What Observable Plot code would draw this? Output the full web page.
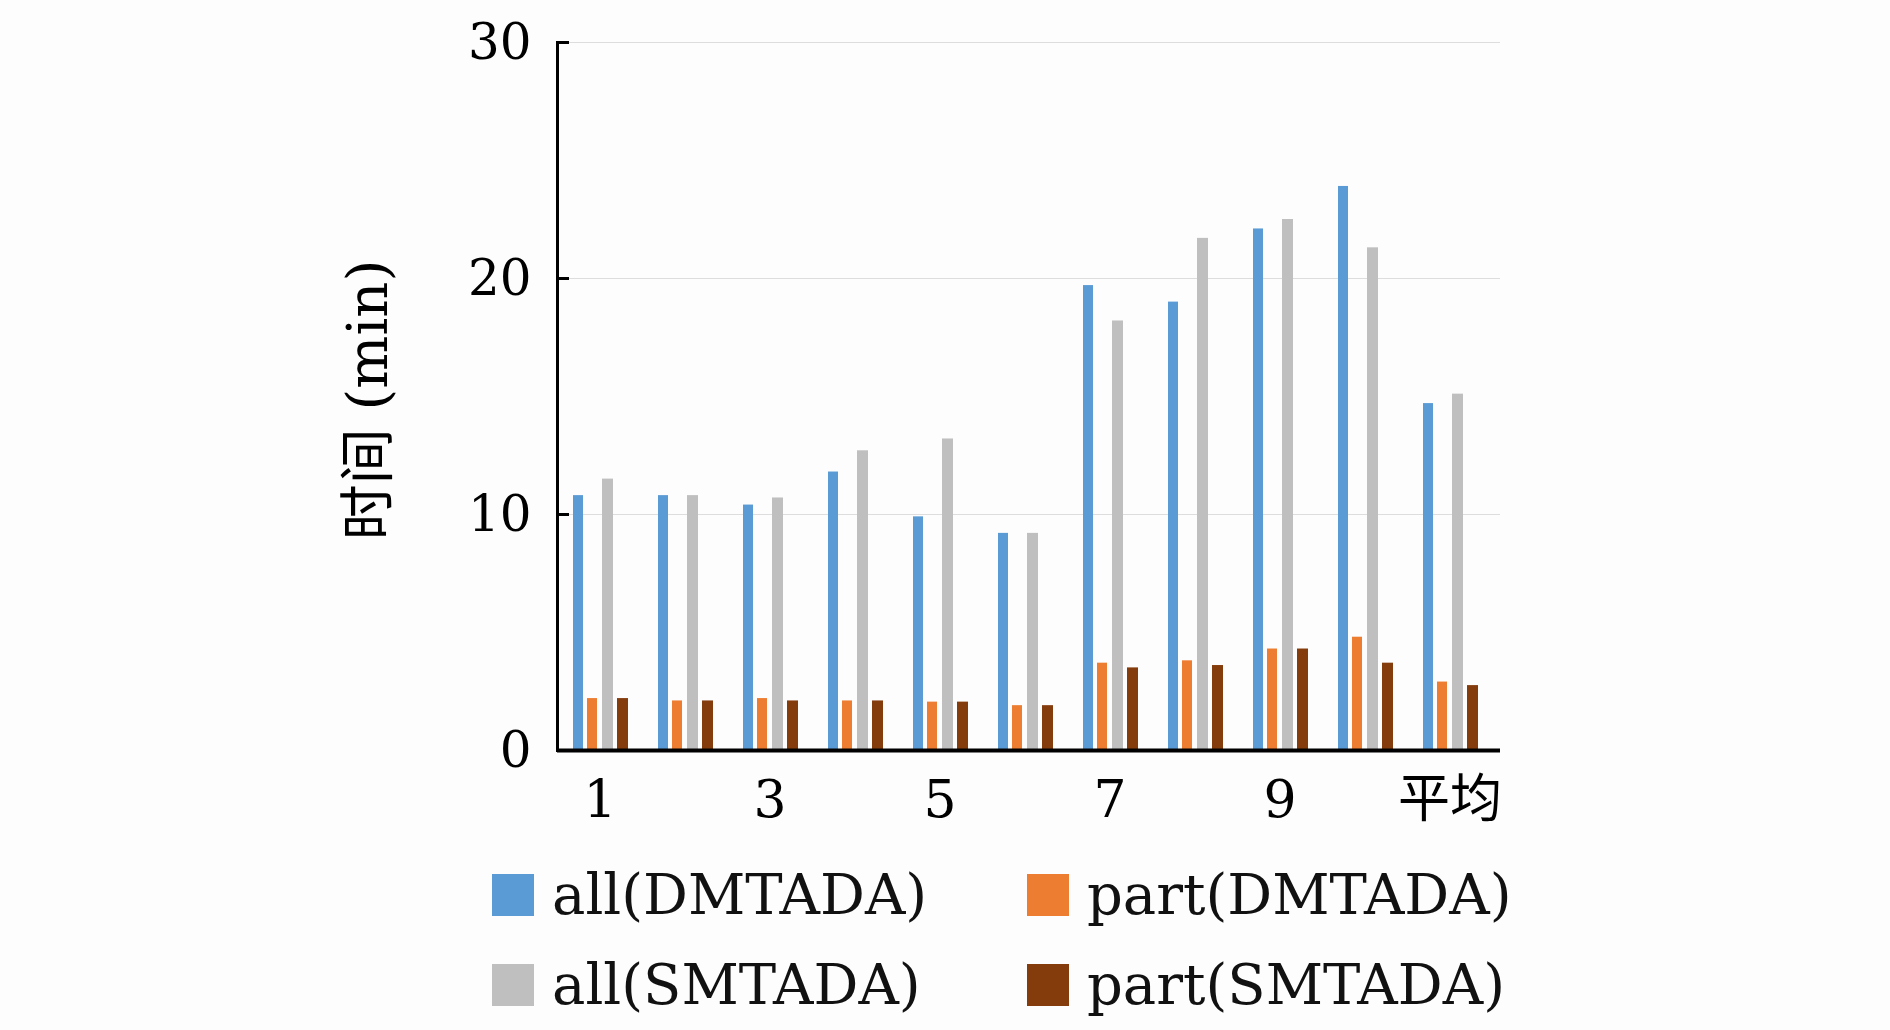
<!DOCTYPE html>
<html><head><meta charset="utf-8">
<script src="https://cdn.jsdelivr.net/npm/d3@7"></script>
<script src="https://cdn.jsdelivr.net/npm/@observablehq/plot@0.6"></script>
<style>
body{margin:0;background:#fdfdfd;font-family:"DejaVu Serif","Noto Sans CJK SC",serif;}
#wrap{position:relative;width:1890px;height:1030px;}
.leg{position:absolute;font-size:56px;display:flex;align-items:center;color:#111;}
.sw{width:42px;height:42px;margin-right:18px;}
</style></head><body><div id="wrap"></div>
<script>
const categories=["1","2","3","4","5","6","7","8","9","10","平均"];
const series=["all(DMTADA)","part(DMTADA)","all(SMTADA)","part(SMTADA)"];
const colors=["#5b9bd5","#ed7d31","#bfbfbf","#843c0c"];
const allD=[10.8,10.8,10.4,11.8,9.9,9.2,19.7,19.0,22.1,23.9,14.7];
const partD=[2.2,2.1,2.2,2.1,2.05,1.9,3.7,3.8,4.3,4.8,2.9];
const allS=[11.5,10.8,10.7,12.7,13.2,9.2,18.2,21.7,22.5,21.3,15.1];
const partS=[2.2,2.1,2.1,2.1,2.05,1.9,3.5,3.6,4.3,3.7,2.75];
const vals=[allD,partD,allS,partS];
const insets=[[16,59],[30,45],[45,29],[60,14]];
const marks=[
  Plot.gridY({ticks:[10,20,30],stroke:"#ddd",strokeOpacity:1}),
  ...vals.map((v,s)=>Plot.barY(categories.map((c,i)=>({c,v:v[i]})),{x:"c",y:"v",fill:colors[s],insetLeft:insets[s][0],insetRight:insets[s][1]})),
  Plot.axisY({ticks:[0,10,20,30],tickSize:-12,tickPadding:38,fontSize:50,label:null,stroke:"#000",strokeWidth:3}),
  Plot.axisX({tickSize:0,tickPadding:30,fontSize:52,label:null,tickFormat:(d,i)=>i%2===0?d:""}),
  Plot.frame({anchor:"left",stroke:"#000",strokeWidth:3}),
  Plot.ruleY([0],{stroke:"#000",strokeWidth:4})
];
const chart=Plot.plot({width:1890,height:850,marginLeft:557,marginRight:390,marginTop:42,marginBottom:100,
  style:{background:"transparent",fontFamily:'"DejaVu Serif","Noto Sans CJK SC",serif'},
  x:{domain:categories,padding:0,align:0},y:{domain:[0,30]},marks});
const wrap=document.getElementById("wrap");
wrap.appendChild(chart);
const yl=document.createElement("div");
yl.textContent="时间 (min)";
yl.style.cssText="position:absolute;left:362px;top:400px;font-size:56px;transform:translate(-50%,-50%) rotate(-90deg);white-space:nowrap;";
wrap.appendChild(yl);
const pos=[[492,898],[1027,898],[492,988],[1027,988]];
series.forEach((s,i)=>{const d=document.createElement("div");d.className="leg";
d.style.left=pos[i][0]+"px";d.style.top=(pos[i][1]-36)+"px";
d.innerHTML=`<div class="sw" style="background:${colors[i]}"></div><span>${s}</span>`;wrap.appendChild(d);});
</script></body></html>
